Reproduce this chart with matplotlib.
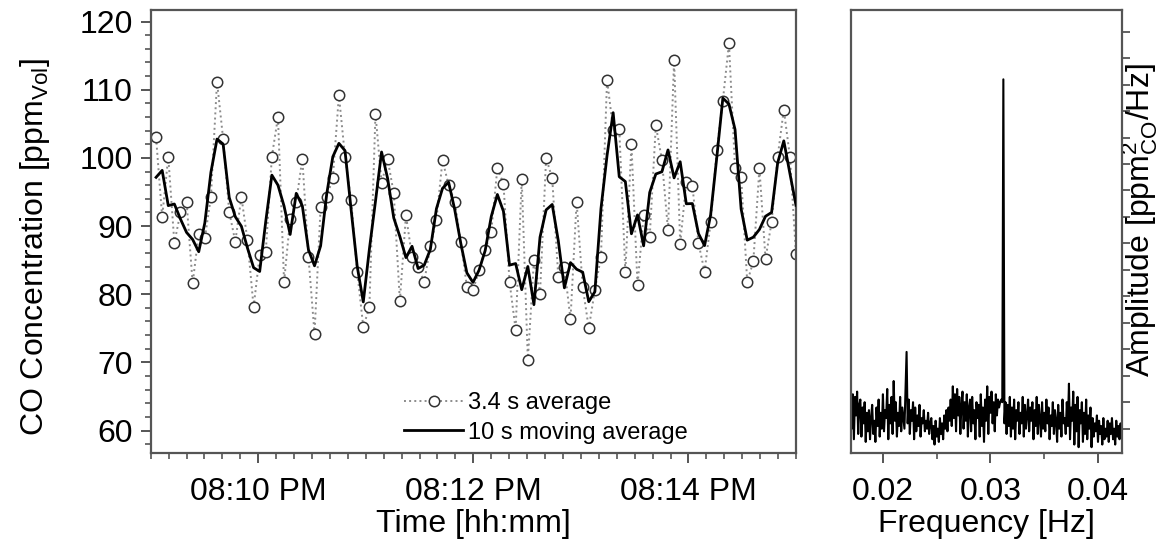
import numpy as np
import pandas as pd
import matplotlib
matplotlib.use("Agg")
from matplotlib import pyplot as plt
import matplotlib.dates as mdates
from matplotlib.ticker import MultipleLocator, FixedLocator

plt.rcParams['font.family'] = ['Liberation Sans', 'DejaVu Sans']
plt.rcParams['mathtext.default'] = 'regular'

# 3.4 s averages (one value every 3.4 s from 20:09:03)
co_3s = [103.0, 91.3, 100.2, 87.5, 92.0, 93.6, 81.6, 88.9, 88.2, 94.3,
         111.2, 102.8, 92.1, 87.7, 94.3, 87.9, 78.1, 85.7, 86.2, 100.2,
         106.0, 81.8, 91.0, 93.5, 99.9, 85.5, 74.2, 92.8, 94.3, 97.0,
         109.2, 100.2, 93.8, 83.3, 75.2, 78.1, 106.5, 96.3, 99.8, 94.8,
         79.0, 91.6, 85.5, 84.0, 81.8, 87.0, 90.9, 99.7, 96.0, 93.6,
         87.7, 81.1, 80.6, 83.5, 86.5, 89.2, 98.5, 96.2, 81.8, 74.8,
         96.9, 70.3, 85.0, 80.1, 100.0, 97.0, 82.5, 84.0, 76.3, 93.6,
         81.1, 75.0, 80.6, 85.5, 111.5, 104.1, 104.3, 83.3, 102.0, 81.3,
         91.6, 88.4, 104.8, 99.7, 89.4, 114.4, 87.4, 96.5, 95.9, 87.5,
         83.3, 90.6, 101.1, 108.4, 116.8, 98.5, 97.2, 81.8, 84.8, 98.5,
         85.2, 90.6, 100.2, 107.1, 100.2, 85.9]
times = pd.date_range("2000-01-01 20:09:03", periods=len(co_3s), freq="3400ms")
# 10 s moving average = 3 samples of 3.4 s
co_10s = pd.Series(co_3s).rolling(3, center=True, min_periods=1).mean()

# amplitude spectrum (arbitrary units), 0.0001 Hz steps from 0.0170 Hz
amp = [2.6, 1.0, 2.3, 0.6, 2.2, 1.5, 2.4, 0.8, 1.9, 2.1,
       0.7, 1.8, 1.2, 2.0, 0.5, 1.6, 0.9, 1.7, 0.6, 1.4,
       1.9, 0.8, 1.3, 0.5, 1.8, 1.1, 2.1, 0.7, 1.6, 1.0,
       2.3, 0.9, 1.7, 1.4, 2.5, 0.6, 1.9, 1.2, 2.2, 0.8,
       2.8, 1.3, 2.0, 0.7, 1.6, 1.1, 2.2, 0.9, 1.8, 1.4,
       1.0, 2.4, 3.9, 1.2, 2.1, 0.8, 1.7, 1.3, 2.0, 0.6,
       1.8, 0.9, 1.5, 1.1, 1.9, 0.7, 1.4, 1.2, 1.7, 0.9,
       1.3, 1.0, 1.6, 0.8, 1.2, 1.4, 0.6, 1.1, 0.4, 1.3,
       0.7, 1.0, 0.5, 1.4, 0.8, 1.2, 0.6, 1.5, 1.0, 1.7,
       0.9, 1.8, 1.3, 2.1, 1.1, 2.6, 1.4, 2.3, 0.9, 2.5,
       1.5, 2.2, 0.8, 1.9, 2.4, 1.0, 2.0, 1.3, 2.3, 0.7,
       1.8, 2.1, 0.9, 2.2, 1.2, 1.7, 0.6, 2.0, 1.4, 1.9,
       0.7, 2.3, 1.1, 1.8, 0.5, 2.1, 1.3, 2.6, 0.8, 2.2,
       1.6, 2.4, 1.2, 2.0, 0.9, 2.3, 1.5, 2.1, 1.8, 2.0,
       2.1, 2.0, 14.2, 1.2, 2.0, 0.8, 1.9, 1.1, 2.2, 0.7,
       1.8, 1.0, 2.1, 0.6, 1.7, 1.3, 2.0, 0.8, 1.6, 1.2,
       2.2, 0.7, 1.9, 1.0, 1.5, 2.1, 0.9, 1.8, 1.3, 2.0,
       0.6, 1.7, 1.1, 2.2, 0.8, 1.9, 1.4, 0.7, 2.0, 1.0,
       1.6, 0.9, 2.1, 1.2, 1.8, 0.6, 1.5, 1.1, 2.0, 0.8,
       1.7, 1.3, 0.5, 1.9, 1.0, 1.6, 0.7, 2.1, 1.2, 1.4,
       0.8, 2.0, 1.1, 2.7, 0.6, 1.8, 1.3, 2.4, 0.4, 1.9,
       0.9, 2.2, 0.3, 1.7, 1.2, 2.0, 0.5, 1.6, 0.8, 2.1,
       0.6, 1.5, 1.0, 1.8, 0.3, 1.4, 0.7, 1.2, 0.9, 1.5,
       0.5, 1.3, 0.8, 1.1, 0.4, 1.4, 0.6, 1.0, 0.7, 1.3,
       0.5, 1.2, 0.8, 1.4, 0.6, 1.0, 0.4, 1.3, 0.7, 1.1,
       0.6, 1.2, 0.8]
freq = 0.0170 + 0.0001 * np.arange(len(amp))

FS = 23

fig = plt.figure(figsize=(11.61, 5.46), dpi=100)
ax = fig.add_axes([0.1298, 0.1703, 0.5558, 0.8114])
ax2 = fig.add_axes([0.7327, 0.1703, 0.2334, 0.8114])

spine_col = '#555555'
for a in (ax, ax2):
    for s in a.spines.values():
        s.set_color(spine_col)
        s.set_linewidth(1.6)

# left panel
ax.plot(times, co_3s, linestyle=':', color='0.55', lw=1.4, marker='o',
        ms=7.5, mfc='white', mec='#333333', mew=1.1, zorder=2,
        label='3.4 s average')
ax.plot(times, co_10s, color='black', lw=2.0, zorder=3,
        label='10 s moving average')

ax.set_xlim(pd.Timestamp("2000-01-01 20:09:00"), pd.Timestamp("2000-01-01 20:15:00"))
ax.set_ylim(56.7, 121.7)
ax.yaxis.set_major_locator(MultipleLocator(10))
ax.yaxis.set_minor_locator(MultipleLocator(2))
ax.xaxis.set_major_locator(mdates.MinuteLocator(byminute=[10, 12, 14]))
ax.xaxis.set_minor_locator(mdates.SecondLocator(bysecond=range(0, 60, 10)))
ax.xaxis.set_major_formatter(mdates.DateFormatter('%I:%M %p'))
ax.tick_params(which='major', direction='out', length=7, width=1.4,
               color=spine_col, labelsize=FS, pad=6)
ax.tick_params(axis='x', which='major', pad=10)
ax.tick_params(which='minor', direction='out', length=4, width=1.2,
               color=spine_col)
ax.set_xlabel('Time [hh:mm]', fontsize=FS, labelpad=2)
ax.set_ylabel('CO Concentration [ppm$_{Vol}$]', fontsize=FS, va='center', ha='center')
ax.yaxis.set_label_coords(-0.179, 0.465)

leg = ax.legend(loc='lower left', bbox_to_anchor=(0.378, 0.0), frameon=False,
                fontsize=17, handlelength=2.5, handletextpad=0.2,
                borderaxespad=0.0, labelspacing=0.3)

# right panel
ax2.plot(freq, amp, color='black', lw=1.5)
ax2.set_xlim(0.0170, 0.0422)
ax2.set_ylim(0.08, 16.82)
ax2.xaxis.set_major_locator(FixedLocator([0.02, 0.03, 0.04]))
ax2.xaxis.set_minor_locator(FixedLocator([0.025, 0.035]))
ax2.set_xticklabels(['0.02', '0.03', '0.04'])
ax2.yaxis.set_major_locator(FixedLocator(list(range(1, 17))))
ax2.yaxis.tick_right()
ax2.tick_params(axis='y', which='major', direction='out', length=6, width=1.3,
                color=spine_col, labelright=False)
ax2.tick_params(axis='x', which='major', direction='out', length=7, width=1.4,
                color=spine_col, labelsize=FS, pad=10)
ax2.tick_params(axis='x', which='minor', direction='out', length=4, width=1.2,
                color=spine_col)
ax2.set_xlabel('Frequency [Hz]', fontsize=FS, labelpad=2)
ax2.yaxis.set_label_position('right')
ax2.set_ylabel('Amplitude [ppm$_{CO}^{2}$/Hz]', fontsize=FS, va='center', ha='center')
ax2.yaxis.set_label_coords(1.067, 0.526)

fig.savefig('out.png', dpi=100)
